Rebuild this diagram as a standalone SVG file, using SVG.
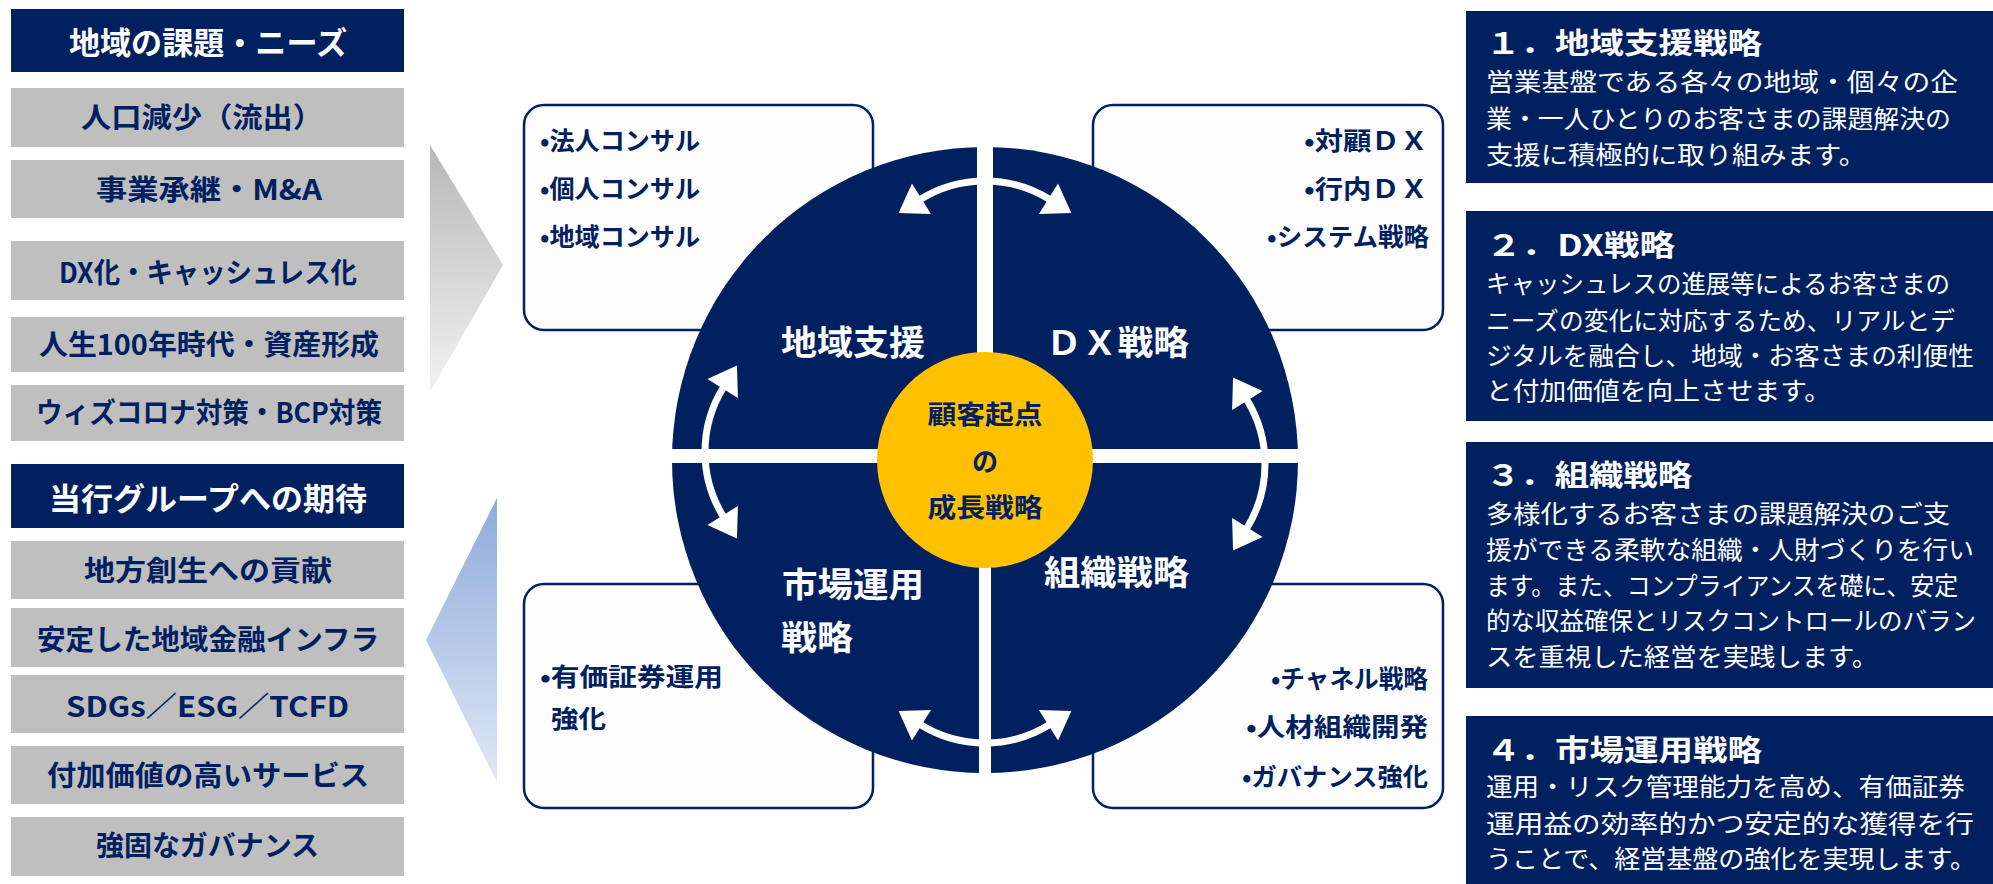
<svg xmlns="http://www.w3.org/2000/svg" width="1993" height="884" viewBox="0 0 1993 884">
<defs>
<style>
text{font-family:"Noto Sans CJK JP","Noto Sans",sans-serif;font-weight:700}
.navy{fill:#002060}
.gray{fill:#bfbfbf}
.hd{fill:#ffffff;font-size:31px}
.gt{fill:#002060;font-size:28px}
.q{fill:#ffffff;font-size:34px}
.c{fill:#002060;font-size:26px}
.bx{fill:#fdfdfd;stroke:#002060;stroke-width:2.5}
.bt{fill:#002060;font-size:25px}
.rt{fill:#ffffff;font-size:29px}
.rb{fill:#ffffff;font-size:25px;font-weight:400}
.arc{fill:none;stroke:#ffffff;stroke-width:7;marker-start:url(#ah);marker-end:url(#ah)}
</style>
<linearGradient id="gGray" x1="0" y1="0" x2="0" y2="1">
<stop offset="0" stop-color="#b8b8b8"/>
<stop offset="1" stop-color="#f2f2f2"/>
</linearGradient>
<linearGradient id="gBlue" x1="0" y1="0" x2="0" y2="1">
<stop offset="0" stop-color="#8eaadb"/>
<stop offset="1" stop-color="#e0e8f5"/>
</linearGradient>
<marker id="ah" markerUnits="userSpaceOnUse" markerWidth="34" markerHeight="44" viewBox="-4 -22 34 44" refX="0" refY="0" orient="auto-start-reverse">
<path d="M-2,-18 L25,0 L-2,18 z" fill="#ffffff"/>
</marker>
</defs>

<g id="left-needs">
<rect class="navy" x="11" y="9" width="393" height="63"/>
<text class="hd" x="69" y="54" textLength="278" lengthAdjust="spacingAndGlyphs">地域の課題・ニーズ</text>
<rect class="gray" x="11" y="88" width="393" height="59"/>
<text class="gt" x="81" y="128" textLength="242" lengthAdjust="spacingAndGlyphs">人口減少（流出）</text>
<rect class="gray" x="11" y="160" width="393" height="58"/>
<text class="gt" x="96" y="200" textLength="226" lengthAdjust="spacingAndGlyphs">事業承継・M&amp;A</text>
<rect class="gray" x="11" y="241" width="393" height="59"/>
<text class="gt" x="59" y="283" textLength="298" lengthAdjust="spacingAndGlyphs">DX化・キャッシュレス化</text>
<rect class="gray" x="11" y="317" width="393" height="55"/>
<text class="gt" x="39" y="355" textLength="340" lengthAdjust="spacingAndGlyphs">人生100年時代・資産形成</text>
<rect class="gray" x="11" y="385" width="393" height="56"/>
<text class="gt" x="36" y="423" textLength="346" lengthAdjust="spacingAndGlyphs">ウィズコロナ対策・BCP対策</text>
</g>

<g id="left-expect">
<rect class="navy" x="11" y="464" width="393" height="64"/>
<text class="hd" x="49" y="510" textLength="318" lengthAdjust="spacingAndGlyphs">当行グループへの期待</text>
<rect class="gray" x="11" y="541" width="393" height="58"/>
<text class="gt" x="84" y="581" textLength="248" lengthAdjust="spacingAndGlyphs">地方創生への貢献</text>
<rect class="gray" x="11" y="608" width="393" height="59"/>
<text class="gt" x="37" y="650" textLength="342" lengthAdjust="spacingAndGlyphs">安定した地域金融インフラ</text>
<rect class="gray" x="11" y="675" width="393" height="58"/>
<text class="gt" x="66" y="717" textLength="283" lengthAdjust="spacingAndGlyphs">SDGs／ESG／TCFD</text>
<rect class="gray" x="11" y="746" width="393" height="58"/>
<text class="gt" x="47" y="786" textLength="322" lengthAdjust="spacingAndGlyphs">付加価値の高いサービス</text>
<rect class="gray" x="11" y="817" width="393" height="59"/>
<text class="gt" x="96" y="856" textLength="223" lengthAdjust="spacingAndGlyphs">強固なガバナンス</text>
</g>

<g id="arrow-gray">
<polygon points="430,145 503,265 430,392" fill="url(#gGray)"/>
</g>
<g id="arrow-blue">
<polygon points="497,498 426,640 497,782" fill="url(#gBlue)"/>
</g>

<g id="box-tl">
<rect class="bx" x="524" y="105" width="349" height="225" rx="20"/>
<text class="bt" x="540" y="150" textLength="160" lengthAdjust="spacingAndGlyphs">•法人コンサル</text>
<text class="bt" x="540" y="198" textLength="160" lengthAdjust="spacingAndGlyphs">•個人コンサル</text>
<text class="bt" x="540" y="246" textLength="160" lengthAdjust="spacingAndGlyphs">•地域コンサル</text>
</g>
<g id="box-tr">
<rect class="bx" x="1093" y="105" width="350" height="225" rx="20"/>
<text class="bt" x="1428" y="150" text-anchor="end" textLength="124" lengthAdjust="spacingAndGlyphs">•対顧ＤＸ</text>
<text class="bt" x="1428" y="198" text-anchor="end" textLength="124" lengthAdjust="spacingAndGlyphs">•行内ＤＸ</text>
<text class="bt" x="1429" y="246" text-anchor="end" textLength="162" lengthAdjust="spacingAndGlyphs">•システム戦略</text>
</g>
<g id="box-bl">
<rect class="bx" x="524" y="584" width="349" height="224" rx="20"/>
<text class="bt" x="540" y="686" textLength="183" lengthAdjust="spacingAndGlyphs">•有価証券運用</text>
<text class="bt" x="551" y="728" textLength="55" lengthAdjust="spacingAndGlyphs">強化</text>
</g>
<g id="box-br">
<rect class="bx" x="1093" y="584" width="350" height="224" rx="20"/>
<text class="bt" x="1428" y="688" text-anchor="end" textLength="157" lengthAdjust="spacingAndGlyphs">•チャネル戦略</text>
<text class="bt" x="1428" y="736" text-anchor="end" textLength="182" lengthAdjust="spacingAndGlyphs">•人材組織開発</text>
<text class="bt" x="1428" y="786" text-anchor="end" textLength="186" lengthAdjust="spacingAndGlyphs">•ガバナンス強化</text>
</g>

<g id="strategy-circle">
<circle class="navy" cx="985" cy="460" r="313"/>
<rect x="977" y="140" width="16" height="320" fill="#ffffff"/>
<rect x="979" y="456" width="12" height="325" fill="#ffffff"/>
<rect x="665" y="449" width="640" height="14" fill="#ffffff"/>
<text class="q" x="781" y="355" textLength="144" lengthAdjust="spacingAndGlyphs">地域支援</text>
<text class="q" x="1046" y="355" textLength="143" lengthAdjust="spacingAndGlyphs">ＤＸ戦略</text>
<text class="q" x="782" y="597" textLength="142" lengthAdjust="spacingAndGlyphs">市場運用</text>
<text class="q" x="781" y="650" textLength="72" lengthAdjust="spacingAndGlyphs">戦略</text>
<text class="q" x="1044" y="585" textLength="145" lengthAdjust="spacingAndGlyphs">組織戦略</text>
</g>

<g id="connectors">
<path class="arc" d="M919.8,199.7 A123,123 0 0 1 1050.2,199.7"/>
<path class="arc" d="M1246.3,398.8 A123,123 0 0 1 1246.3,529.2"/>
<path class="arc" d="M1050.2,724.3 A123,123 0 0 1 919.8,724.3"/>
<path class="arc" d="M723.7,517.2 A123,123 0 0 1 723.7,386.8"/>
</g>

<g id="core">
<circle cx="985" cy="460" r="108" fill="#ffc000"/>
<text class="c" x="985" y="424" text-anchor="middle" textLength="115" lengthAdjust="spacingAndGlyphs">顧客起点</text>
<text class="c" x="985" y="471" text-anchor="middle">の</text>
<text class="c" x="985" y="517" text-anchor="middle" textLength="115" lengthAdjust="spacingAndGlyphs">成長戦略</text>
</g>

<g id="desc-1">
<rect class="navy" x="1466" y="11" width="527" height="172"/>
<text class="rt" x="1486" y="54" textLength="276" lengthAdjust="spacingAndGlyphs">１．地域支援戦略</text>
<text class="rb" x="1486" y="91" textLength="472" lengthAdjust="spacingAndGlyphs">営業基盤である各々の地域・個々の企</text>
<text class="rb" x="1486" y="128" textLength="465" lengthAdjust="spacingAndGlyphs">業・一人ひとりのお客さまの課題解決の</text>
<text class="rb" x="1486" y="164" textLength="380" lengthAdjust="spacingAndGlyphs">支援に積極的に取り組みます。</text>
</g>
<g id="desc-2">
<rect class="navy" x="1466" y="211" width="527" height="210"/>
<text class="rt" x="1486" y="256" textLength="189" lengthAdjust="spacingAndGlyphs">２．DX戦略</text>
<text class="rb" x="1486" y="293" textLength="464" lengthAdjust="spacingAndGlyphs">キャッシュレスの進展等によるお客さまの</text>
<text class="rb" x="1486" y="330" textLength="469" lengthAdjust="spacingAndGlyphs">ニーズの変化に対応するため、リアルとデ</text>
<text class="rb" x="1486" y="365" textLength="488" lengthAdjust="spacingAndGlyphs">ジタルを融合し、地域・お客さまの利便性</text>
<text class="rb" x="1486" y="400" textLength="345" lengthAdjust="spacingAndGlyphs">と付加価値を向上させます。</text>
</g>
<g id="desc-3">
<rect class="navy" x="1466" y="442" width="527" height="246"/>
<text class="rt" x="1486" y="486" textLength="206" lengthAdjust="spacingAndGlyphs">３．組織戦略</text>
<text class="rb" x="1486" y="523" textLength="464" lengthAdjust="spacingAndGlyphs">多様化するお客さまの課題解決のご支</text>
<text class="rb" x="1486" y="559" textLength="488" lengthAdjust="spacingAndGlyphs">援ができる柔軟な組織・人財づくりを行い</text>
<text class="rb" x="1486" y="595" textLength="472" lengthAdjust="spacingAndGlyphs">ます。また、コンプライアンスを礎に、安定</text>
<text class="rb" x="1486" y="630" textLength="490" lengthAdjust="spacingAndGlyphs">的な収益確保とリスクコントロールのバラン</text>
<text class="rb" x="1486" y="666" textLength="392" lengthAdjust="spacingAndGlyphs">スを重視した経営を実践します。</text>
</g>
<g id="desc-4">
<rect class="navy" x="1466" y="716" width="527" height="168"/>
<text class="rt" x="1486" y="761" textLength="276" lengthAdjust="spacingAndGlyphs">４．市場運用戦略</text>
<text class="rb" x="1486" y="796" textLength="479" lengthAdjust="spacingAndGlyphs">運用・リスク管理能力を高め、有価証券</text>
<text class="rb" x="1486" y="833" textLength="488" lengthAdjust="spacingAndGlyphs">運用益の効率的かつ安定的な獲得を行</text>
<text class="rb" x="1486" y="868" textLength="490" lengthAdjust="spacingAndGlyphs">うことで、経営基盤の強化を実現します。</text>
</g>
</svg>
